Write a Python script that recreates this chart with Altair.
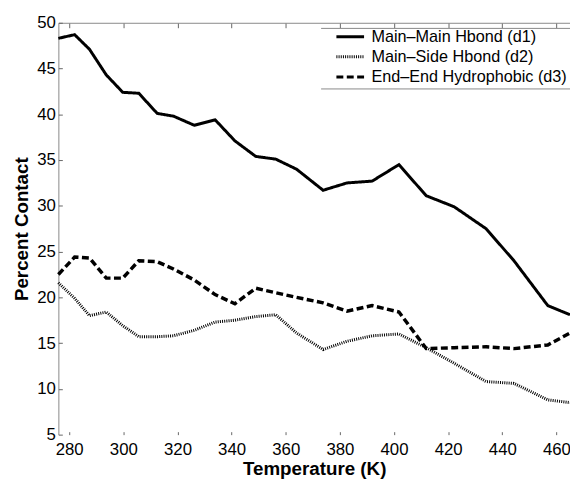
import altair as alt
import pandas as pd

temperature = [276.0, 282.0, 287.5, 293.7, 299.8, 305.7, 312.5, 318.5, 326.2, 333.9, 341.2, 348.9,
               356.3, 364.0, 373.8, 382.6, 391.9, 401.8, 411.9, 422.2, 434.0, 444.3, 456.8, 465.0]
main_main = [48.3, 48.7, 47.1, 44.3, 42.4, 42.3, 40.1, 39.8, 38.8, 39.4, 37.1, 35.4,
             35.1, 34.0, 31.7, 32.5, 32.7, 34.5, 31.1, 29.9, 27.5, 24.0, 19.1, 18.1]
main_side = [21.6, 19.9, 18.0, 18.4, 16.9, 15.7, 15.7, 15.8, 16.4, 17.3, 17.5, 17.9,
             18.1, 16.1, 14.3, 15.2, 15.8, 16.0, 14.5, 12.8, 10.8, 10.6, 8.8, 8.5]
end_end = [22.5, 24.4, 24.3, 22.1, 22.1, 24.0, 23.9, 23.1, 21.9, 20.3, 19.3, 21.0,
           20.5, 20.0, 19.4, 18.5, 19.1, 18.4, 14.4, 14.5, 14.6, 14.4, 14.8, 16.1]

names = ["Main–Main Hbond (d1)", "Main–Side Hbond (d2)", "End–End Hydrophobic (d3)"]
x_ticks = [280, 300, 320, 340, 360, 380, 400, 420, 440, 460]
y_ticks = [5, 10, 15, 20, 25, 30, 35, 40, 45, 50]

rows = []
for name, vals in zip(names, [main_main, main_side, end_end]):
    for t, v in zip(temperature, vals):
        rows.append({"T": t, "pct": v, "series": name})
df = pd.DataFrame(rows)

W, H = 518, 417
FONT = "Liberation Sans"
xs = alt.Scale(domain=[276, 465], nice=False, zero=False)
ys = alt.Scale(domain=[5, 50], nice=False, zero=False)

leg = alt.Legend(title=None, orient="none", legendX=270, legendY=3)
color_enc = alt.Color("series:N", scale=alt.Scale(domain=names, range=["#000000", "#000000", "#000000"]), legend=leg)
dash_enc = alt.StrokeDash("series:N", scale=alt.Scale(domain=names, range=[[1, 0], [1, 1.2], [7, 3.5]]), legend=leg)

main_x_axis = alt.Axis(orient="bottom", values=x_ticks, domain=False, ticks=False, grid=False,
                       labelPadding=7, title="Temperature (K)", titlePadding=2)
main_y_axis = alt.Axis(orient="left", values=y_ticks, domain=True, domainColor="#888888", ticks=False,
                       grid=False, labelPadding=3, title="Percent Contact", titlePadding=5)

layers = []
widths = [3.0, 3.0, 3.5]
for i, (name, w) in enumerate(zip(names, widths)):
    xa = main_x_axis if i == 0 else None
    ya = main_y_axis if i == 0 else None
    layers.append(
        alt.Chart(df).transform_filter(alt.datum.series == name).mark_line(strokeWidth=w).encode(
            x=alt.X("T:Q", scale=xs, axis=xa),
            y=alt.Y("pct:Q", scale=ys, axis=ya),
            color=color_enc,
            strokeDash=dash_enc,
        )
    )

# invisible layers carrying extra axes: top frame line with inward ticks, inward ticks bottom/left
top_frame = alt.Chart(df).mark_line(opacity=0).encode(
    x=alt.X("T:Q", scale=xs, axis=alt.Axis(orient="bottom", offset=-H, values=x_ticks, labels=False,
                                           domain=True, domainColor="#888888", ticks=True, tickSize=5,
                                           tickColor="#666666", grid=False, title=None)),
    y=alt.Y("pct:Q", scale=ys, axis=alt.Axis(orient="right", offset=-W, values=y_ticks, labels=False,
                                             domain=False, ticks=True, tickSize=4, tickColor="#666666",
                                             grid=False, title=None)),
)
bottom_ticks = alt.Chart(df).mark_line(opacity=0).encode(
    x=alt.X("T:Q", scale=xs, axis=alt.Axis(orient="top", offset=-H, values=x_ticks, labels=False,
                                           domain=False, ticks=True, tickSize=3, tickColor="#666666",
                                           grid=False, title=None)),
    y=alt.Y("pct:Q", scale=ys, axis=None),
)

# legend frame: horizontal lines above and below the legend entries
legend_top = alt.Chart().mark_rule(color="#888888", strokeWidth=1).encode(
    x=alt.value(266), x2=alt.value(W), y=alt.value(5.7))
legend_bottom = alt.Chart().mark_rule(color="#888888", strokeWidth=1).encode(
    x=alt.value(266), x2=alt.value(W), y=alt.value(67))

chart = alt.layer(*layers, top_frame, bottom_ticks, legend_top, legend_bottom).resolve_axis(
    x="independent", y="independent"
).properties(
    width=W, height=H,
    autosize=alt.AutoSizeParams(type="none"),
    padding={"left": 51, "top": 12, "right": 0, "bottom": 46},
    background="white",
).configure_view(stroke=None).configure_axis(
    labelFont=FONT, labelFontSize=17, labelColor="#000000",
    titleFont=FONT, titleFontSize=19, titleFontWeight="bold", titleColor="#000000",
).configure_legend(
    labelFont=FONT, labelFontSize=16.4, labelColor="#000000", labelLimit=400,
    padding=3, symbolOffset=7, rowPadding=3.3, labelOffset=6, clipHeight=16.4,
    symbolSize=784, symbolStrokeWidth=3, symbolType="stroke",
)

chart.save("out.html", embed_options={"renderer": "svg", "actions": False})
